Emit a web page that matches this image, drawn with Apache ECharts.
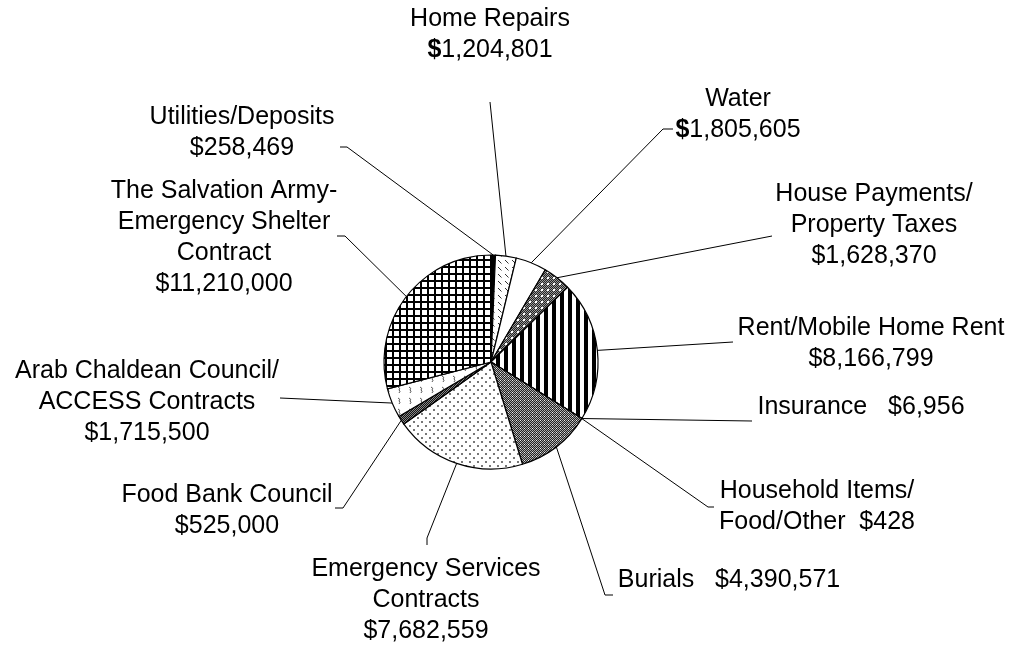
<!DOCTYPE html>
<html>
<head>
<meta charset="utf-8">
<script src="https://cdn.jsdelivr.net/npm/echarts@6/dist/echarts.min.js"></script>
<style>
  html, body { margin: 0; padding: 0; background: #fff; }
  #main { width: 1012px; height: 645px; }
</style>
</head>
<body>
<div id="main"></div>
<script>
// slice names, clockwise from 12 o'clock
var names = [
  "Utilities/Deposits", "Home Repairs", "Water", "House Payments/Property Taxes",
  "Rent/Mobile Home Rent", "Insurance", "Household Items/Food/Other", "Burials",
  "Emergency Services Contracts", "Food Bank Council",
  "Arab Chaldean Council/ACCESS Contracts",
  "The Salvation Army-Emergency Shelter Contract"
];
var values = [258469, 1204801, 1805605, 1628370, 8166799, 6956, 428, 4390571,
  7682559, 525000, 1715500, 11210000];
// label text in front of the amount
var labelHeads = [
  "Utilities/Deposits\n", "Home Repairs\n", "Water\n", "House Payments/\nProperty Taxes\n",
  "Rent/Mobile Home Rent\n", "Insurance   ", "Household Items/\nFood/Other  ", "Burials   ",
  "Emergency Services\nContracts\n", "Food Bank Council\n",
  "Arab Chaldean Council/\nACCESS Contracts\n",
  "The Salvation Army-\nEmergency Shelter\nContract\n"
];
var boldDollar = [false, true, true, false, false, false, false, false, false, false, false, false];

// label block centres and leader line bends (layout only)
var labelPos = [
  [242, 133], [490, 35], [738, 115], [874, 225], [871, 344], [861, 407],
  [817, 507], [729, 580], [426, 600], [227, 511], [147, 402], [224, 238]
];
var lineBends = [
  [[347, 147], [340, 147]], [[490, 102]], [[663, 129], [673, 129]], [[772, 236]],
  [[733, 342]], [[752, 421]], [[708, 507], [714, 507]], [[605, 595], [613, 595]],
  [[427, 538], [427, 545]], [[343, 508], [335, 508]], [[280, 398]], [[345, 236], [337, 236]]
];

function pattern(w, h, bg, draw) {
  var c = document.createElement("canvas");
  c.width = w;
  c.height = h;
  var ctx = c.getContext("2d");
  ctx.fillStyle = bg;
  ctx.fillRect(0, 0, w, h);
  if (draw) draw(ctx);
  return { image: c, repeat: "repeat" };
}
function checker(ctx, w, h, a, b) {
  for (var x = 0; x < w; x++) {
    for (var y = 0; y < h; y++) {
      ctx.fillStyle = (x + y) % 2 ? a : b;
      ctx.fillRect(x, y, 1, 1);
    }
  }
}

var fills = [
  "#000",
  pattern(7, 7, "#fff", function (ctx) {
    ctx.strokeStyle = "#333";
    ctx.lineWidth = 1;
    ctx.beginPath();
    ctx.moveTo(1, 1); ctx.lineTo(4.5, 4.5);
    ctx.stroke();
  }),
  "#fff",
  pattern(6, 6, "#fff", function (ctx) {
    checker(ctx, 6, 6, "#222", "#999");
    ctx.fillStyle = "#fff";
    ctx.fillRect(1, 1, 2, 2);
  }),
  pattern(8, 8, "#fff", function (ctx) {
    ctx.fillStyle = "#000";
    ctx.fillRect(0, 0, 4, 8);
  }),
  "#fff",
  "#fff",
  pattern(4, 4, "#fff", function (ctx) {
    checker(ctx, 4, 4, "#222", "#aaa");
    ctx.fillStyle = "#eee";
    ctx.fillRect(0, 0, 1, 1);
  }),
  pattern(8, 8, "#fff", function (ctx) {
    ctx.fillStyle = "#777";
    ctx.fillRect(1, 1, 2, 2);
    ctx.fillRect(5, 5, 2, 2);
  }),
  pattern(4, 4, "#fff", function (ctx) {
    checker(ctx, 4, 4, "#111", "#888");
  }),
  pattern(11, 11, "#fff", function (ctx) {
    ctx.strokeStyle = "#555";
    ctx.lineWidth = 1;
    ctx.beginPath();
    ctx.moveTo(2, 2); ctx.quadraticCurveTo(5, 3, 3, 5); ctx.quadraticCurveTo(5, 6, 3, 8);
    ctx.stroke();
  }),
  pattern(7, 7, "#fff", function (ctx) {
    ctx.fillStyle = "#000";
    ctx.fillRect(0, 0, 7, 2);
    ctx.fillRect(0, 0, 2, 7);
  })
];

var chart = echarts.init(document.getElementById("main"));

var seriesData = names.map(function (n, i) {
  return { name: n, value: values[i], itemStyle: { color: fills[i] } };
});

chart.setOption({
  backgroundColor: "#fff",
  animation: false,
  series: [
    {
      type: "pie",
      center: [491, 362],
      radius: 107,
      startAngle: 90,
      clockwise: true,
      avoidLabelOverlap: false,
      minShowLabelAngle: 0,
      data: seriesData,
      itemStyle: {
        borderColor: "#000",
        borderWidth: 1.2
      },
      label: {
        show: true,
        position: "outside",
        color: "#000",
        fontSize: 25,
        lineHeight: 31,
        fontFamily: "Liberation Sans, Arial, sans-serif",
        formatter: function (p) {
          var i = p.dataIndex;
          var amount = values[i].toLocaleString("en-US");
          return labelHeads[i] + (boldDollar[i] ? "{b|$}" : "$") + amount;
        },
        rich: {
          b: { fontWeight: "bold", fontSize: 25, lineHeight: 31, color: "#000" }
        }
      },
      labelLine: {
        show: true,
        length: 20,
        length2: 20,
        lineStyle: { color: "#000", width: 1 }
      },
      labelLayout: function (params) {
        var i = params.dataIndex;
        var start = params.labelLinePoints ? params.labelLinePoints[0] : lineBends[i][0];
        var pts = [start].concat(lineBends[i]);
        if (pts.length === 2) pts.push(pts[1]);
        return {
          x: labelPos[i][0],
          y: labelPos[i][1],
          align: "center",
          verticalAlign: "middle",
          labelLinePoints: pts
        };
      }
    }
  ]
});
</script>
</body>
</html>
